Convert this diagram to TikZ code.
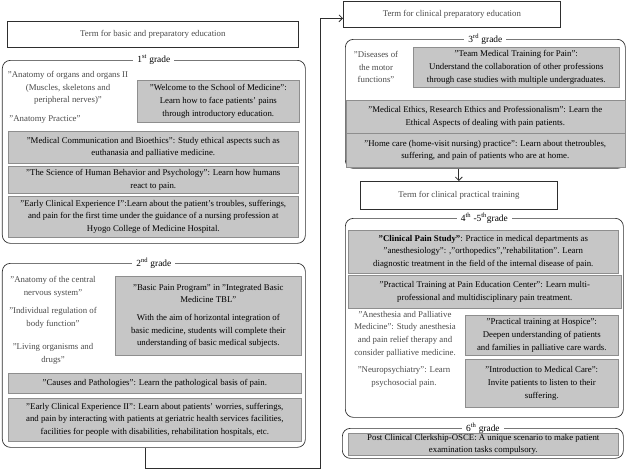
\documentclass[tikz,border=0pt]{standalone}
\usepackage{fontspec}
\setmainfont{Liberation Serif}
\usetikzlibrary{arrows.meta}
\definecolor{gfill}{HTML}{C6C6C6}
\definecolor{gline}{HTML}{8E8E8E}
\definecolor{ptext}{HTML}{4A4A4A}
\definecolor{frame}{HTML}{2E2E2E}
\tikzset{
  x=1pt, y=-1pt,
  base/.style={font=\fontsize{8.8}{12.6}\selectfont, align=center, inner sep=0pt},
  gbox/.style={base, draw=gline, fill=gfill, text=black, anchor=north west, line width=0.6pt},
  ptxt/.style={base, text=ptext},
  termbox/.style={base, draw=frame, line width=0.7pt, text=ptext, anchor=north west},
  gradebox/.style={draw=frame, line width=0.7pt, rounded corners=8pt, anchor=north west, inner sep=0pt},
  gtitle/.style={base, font=\fontsize{9.4}{11}\selectfont, fill=white, inner xsep=4pt, inner ysep=1pt, text=black},
  conn/.style={draw=frame, line width=0.8pt},
  arr/.style={conn, -{Straight Barb[length=3.5pt,width=7pt]}}
}
\begin{document}
\begin{tikzpicture}
\useasboundingbox (0,0) rectangle (627,474);
% ---------- left column ----------
\node[termbox, minimum width=291pt, minimum height=26pt] (tbp) at (7,21) {Term for basic and preparatory education};

\node[gradebox, minimum width=303pt, minimum height=183pt] (g1) at (2,60) {};
\node[gtitle] (g1t) at (g1.north) {1\textsuperscript{st} grade};
\node[ptxt] (a1) at (68,88) {"Anatomy of organs and organs II\\(Muscles, skeletons and\\peripheral nerves)"};
\node[ptxt] (a2) at (45,120) {"Anatomy Practice"};
\node[gbox, minimum width=162pt, minimum height=42pt] (welcome) at (137,80) {"Welcome to the School of Medicine":\\Learn how to face patients' pains\\through introductory education.};
\node[gbox, minimum width=290pt, minimum height=32pt] (medcomm) at (8,131) {"Medical Communication and Bioethics": Study ethical aspects such as\\euthanasia and palliative medicine.};
\node[gbox, minimum width=290pt, minimum height=27pt] (science) at (8,166) {"The Science of Human Behavior and Psychology": Learn how humans\\react to pain.};
\node[gbox, minimum width=290pt, minimum height=41pt] (eci) at (8,196) {"Early Clinical Experience I":Learn about the patient's troubles, sufferings,\\and pain for the first time under the guidance of a nursing profession at\\Hyogo College of Medicine Hospital.};

\node[gradebox, minimum width=303pt, minimum height=184pt] (g2) at (2,263) {};
\node[gtitle] (g2t) at (g2.north) {2\textsuperscript{nd} grade};
\node[ptxt] (b1) at (53,287) {"Anatomy of the central\\nervous system"};
\node[ptxt] (b2) at (53,318) {"Individual regulation of\\body function"};
\node[ptxt] (b3) at (53,354) {"Living organisms and\\drugs"};
\node[gbox, minimum width=186pt, minimum height=79pt] (basic) at (115,276) {"Basic Pain Program" in "Integrated Basic\\Medicine TBL"\\[5pt]With the aim of horizontal integration of\\basic medicine, students will complete their\\understanding of basic medical subjects.};
\node[gbox, minimum width=293pt, minimum height=20pt] (causes) at (8,373) {"Causes and Pathologies": Learn the pathological basis of pain.};
\node[gbox, minimum width=293pt, minimum height=43pt] (eci2) at (8,398) {"Early Clinical Experience II": Learn about patients' worries, sufferings,\\and pain by interacting with patients at geriatric health services facilities,\\facilities for people with disabilities, rehabilitation hospitals, etc.};

% ---------- right column ----------
\node[termbox, minimum width=217pt, minimum height=26pt] (tcp) at (343,1) {Term for clinical preparatory education};

\node[gradebox, minimum width=280pt, minimum height=129pt] (g3) at (345,39) {};
\node[gtitle] (g3t) at (g3.north) {3\textsuperscript{rd} grade};
\node[ptxt] (d1) at (376,67) {"Diseases of\\the motor\\functions"};
\node[gbox, minimum width=206pt, minimum height=40pt] (team) at (413,47) {"Team Medical Training for Pain":\\Understand the collaboration of other professions\\through case studies with multiple undergraduates.};
\node[gbox, minimum width=279pt, minimum height=33pt] (ethics) at (345.5,100) {"Medical Ethics, Research Ethics and Professionalism": Learn the\\Ethical Aspects of dealing with pain patients.};
\node[gbox, minimum width=279pt, minimum height=34pt] (home) at (345.5,133) {"Home care (home-visit nursing) practice": Learn about thetroubles,\\suffering, and pain of patients who are at home.};

\node[termbox, minimum width=197pt, minimum height=28pt] (tpt) at (360,181) {Term for clinical practical training};

\node[gradebox, minimum width=278pt, minimum height=199pt] (g45) at (345,218) {};
\node[gtitle] (g45t) at (g45.north) {4\textsuperscript{th} -5\textsuperscript{th}grade};
\node[gbox, minimum width=270pt, minimum height=43pt] (cps) at (348,230) {\textbf{"Clinical Pain Study"}: Practice in medical departments as\\"anesthesiology": ,"orthopedics","rehabilitation". Learn\\diagnostic treatment in the field of the internal disease of pain.};
\node[gbox, minimum width=273pt, minimum height=33pt] (ptp) at (348,275) {"Practical Training at Pain Education Center": Learn multi-\\professional and multidisciplinary pain treatment.};
\node[ptxt] (anes) at (405,334) {"Anesthesia and Palliative\\Medicine": Study anesthesia\\and pain relief therapy and\\consider palliative medicine.};
\node[ptxt] (neuro) at (404,377) {"Neuropsychiatry": Learn\\psychosocial pain.};
\node[gbox, minimum width=153pt, minimum height=40pt] (hosp) at (465,315) {"Practical training at Hospice":\\Deepen understanding of patients\\and families in palliative care wards.};
\node[gbox, minimum width=153pt, minimum height=48pt] (intro) at (465,359) {"Introduction to Medical Care":\\Invite patients to listen to their\\suffering.};

\node[gradebox, minimum width=281pt, minimum height=30pt] (g6) at (342,428) {};
\node[gtitle] (g6t) at (g6.north) {6\textsuperscript{th} grade};
\node[gbox, minimum width=270pt, minimum height=22pt] (osce) at (348,433) {Post Clinical Clerkship-OSCE: A unique scenario to make patient\\examination tasks compulsory.};

% ---------- connectors ----------
\coordinate (c1) at (145,468);
\coordinate (c2) at (320,468);
\draw[arr] (g2.south -| c1) -- (c1) -- (c2) |- ([yshift=-4pt]tcp.west);
\draw[arr] (g3.south -| tpt.north) -- (tpt.north);
\end{tikzpicture}
\end{document}
